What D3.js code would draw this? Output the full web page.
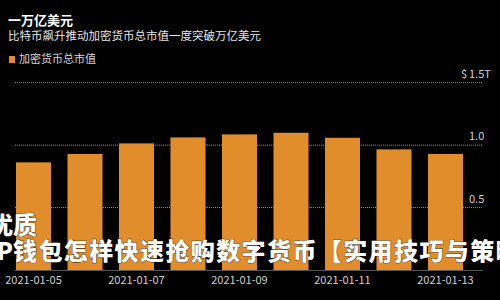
<html>
<script src='https://d3js.org/d3.v7.min.js'></script>
<style>
body {margin: 0; background: #000;}
text {font-family: "Noto Sans CJK SC", "Noto Sans", sans-serif;}
</style>
<body onload='init()'>
<svg width=500 height=300></svg>
<script>
// data
var dates = ["2021-01-05","2021-01-06","2021-01-07","2021-01-08","2021-01-09",
             "2021-01-10","2021-01-11","2021-01-12","2021-01-13"];
var marketCap = [0.862, 0.929, 1.014, 1.062, 1.086, 1.099, 1.059, 0.966, 0.929]; // trillion USD
var yTicks = [0.5, 1.0, 1.5];
var xTickDates = ["2021-01-05","2021-01-07","2021-01-09","2021-01-11","2021-01-13"];

var title = "一万亿美元";
var subtitle = "比特币飙升推动加密货币总市值一度突破万亿美元";
var legendLabel = "加密货币总市值";
var overlay1 = "优质";
var overlay2a = "TP";
var overlay2b = "钱包怎样快速抢购数字货币【实用技巧与策略】";

function init() {
  var svg = d3.select("svg");
  svg.append("rect").attr("width", 500).attr("height", 300).attr("fill", "#000");

  var x = d3.scaleBand().domain(dates).range([16, 463]).paddingInner(0.32).paddingOuter(0);
  var y = d3.scaleLinear().domain([0, 1.5]).range([270, 82.7]);

  // gridlines
  svg.append("g").selectAll("line").data(yTicks).enter().append("line")
    .attr("x1", 15).attr("x2", 483)
    .attr("y1", d => y(d)).attr("y2", d => y(d))
    .attr("stroke", "#8a8a8a").attr("stroke-width", 1)
    .attr("stroke-dasharray", "1,1");

  // bars
  svg.append("g").selectAll("rect").data(dates).enter().append("rect")
    .attr("x", d => x(d))
    .attr("width", x.bandwidth())
    .attr("y", (d, i) => y(marketCap[i]))
    .attr("height", (d, i) => y(0) - y(marketCap[i]))
    .attr("fill", "#e28d2b");

  // baseline
  svg.append("line").attr("x1", 15).attr("x2", 483)
    .attr("y1", y(0) + 0.5).attr("y2", y(0) + 0.5)
    .attr("stroke", "#555").attr("stroke-width", 1);

  // y labels
  var yl = svg.append("g");
  yl.selectAll("text").data(yTicks).enter().append("text")
    .attr("x", 469).attr("y", d => y(d) - 5)
    .attr("fill", "#cfcfcf").attr("font-size", 11)
    .text(d => d === 1.5 ? "1.5T" : d3.format(".1f")(d));
  yl.append("text").attr("x", 467).attr("y", y(1.5) - 5)
    .attr("text-anchor", "end").attr("fill", "#cfcfcf").attr("font-size", 11)
    .text("$");

  // x axis labels
  svg.append("g").selectAll("text").data(xTickDates).enter().append("text")
    .attr("x", d => x(d) + x.bandwidth() / 2).attr("y", 284)
    .attr("text-anchor", "middle")
    .attr("fill", "#cfcfcf").attr("font-size", 11)
    .text(d => d);

  // title, subtitle
  svg.append("text").attr("x", 8).attr("y", 25)
    .attr("fill", "#fff").attr("font-size", 13).attr("font-weight", "bold")
    .text(title);
  svg.append("text").attr("x", 8).attr("y", 40)
    .attr("fill", "#e6e6e6").attr("font-size", 11.5)
    .text(subtitle);

  // legend
  svg.append("rect").attr("x", 9).attr("y", 56).attr("width", 6).attr("height", 7)
    .attr("fill", "#e28d2b");
  svg.append("text").attr("x", 19).attr("y", 63)
    .attr("fill", "#d8d8d8").attr("font-size", 11)
    .text(legendLabel);

  // overlaid caption text
  var ov = svg.append("g").attr("fill", "#fff").attr("font-weight", 900)
    .attr("font-size", 24).attr("stroke", "#000").attr("stroke-width", 0.6)
    .attr("paint-order", "stroke");
  ov.append("text").attr("x", 13).attr("y", 234).attr("text-anchor", "end")
    .text(overlay1.slice(0, 1));
  ov.append("text").attr("x", 13).attr("y", 234).text(overlay1.slice(1));
  ov.append("text").attr("x", 13).attr("y", 260).attr("text-anchor", "end")
    .text(overlay2a);
  ov.append("text").attr("x", 13).attr("y", 260).attr("letter-spacing", 1.4)
    .text(overlay2b);
}
</script>
</body>
</html>
